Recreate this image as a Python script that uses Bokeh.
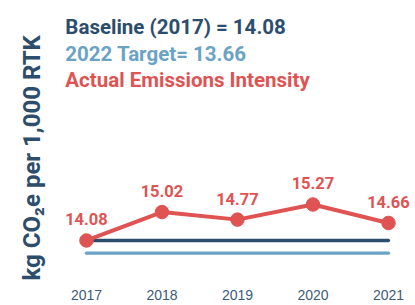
from bokeh.plotting import figure
from bokeh.models import ColumnDataSource, LabelSet, Label, Range1d, FixedTicker, Title
from bokeh.core.properties import value
from bokeh.embed import file_html
from bokeh.resources import INLINE

years = [2017, 2018, 2019, 2020, 2021]
actual = [14.08, 15.02, 14.77, 15.27, 14.66]
labels = ["14.08", "15.02", "14.77", "15.27", "14.66"]
baseline = 14.08
target = 13.66

NAVY = "#2c4d6b"
LIGHT = "#6aa3c3"
RED = "#e05353"
FONT = "Roboto"

YTOP = 22.014
p = figure(width=415, height=305, output_backend="svg", toolbar_location=None,
           x_range=Range1d(2016.656, 2021.358), y_range=Range1d(13.154, YTOP),
           min_border_left=60, min_border_right=0, min_border_top=0, min_border_bottom=37)
p.outline_line_color = None
p.background_fill_color = "white"
p.border_fill_color = "white"
p.xgrid.grid_line_color = None
p.ygrid.grid_line_color = None
p.yaxis.visible = False
p.xaxis.ticker = FixedTicker(ticks=years)
p.xaxis.axis_line_color = None
p.xaxis.major_tick_line_color = None
p.xaxis.minor_tick_line_color = None
p.xaxis.major_label_text_font = "Liberation Sans"
p.xaxis.major_label_text_font_size = "14px"
p.xaxis.major_label_text_color = "#3d5a77"
p.xaxis.major_label_standoff = 15

# reference lines
p.line([years[0], years[-1]], [target, target], line_color=LIGHT, line_width=3.3, line_cap="round")
p.line([years[0], years[-1]], [baseline, baseline], line_color=NAVY, line_width=3.3, line_cap="round")

src = ColumnDataSource(dict(x=years, y=actual, t=labels))
p.line("x", "y", source=src, line_color=RED, line_width=4)
p.scatter("x", "y", source=src, size=13.5, fill_color=RED, line_color=RED)
p.add_layout(LabelSet(x="x", y="y", text="t", source=src, y_offset=15,
                      text_align="center", text_baseline="alphabetic",
                      text_font=value(FONT), text_font_style="bold", text_font_size="16.5px",
                      text_color=RED))

titles = [("Baseline (2017) = 14.08", NAVY, 27),
          ("2022 Target= 13.66", LIGHT, 54),
          ("Actual Emissions Intensity", RED, 80)]
for txt, col, ypix in titles:
    p.add_layout(Label(x=2016.72, y=YTOP - ypix / 30.25, text=txt,
                       text_color=col, text_font=FONT, text_font_style="bold",
                       text_font_size="20.5px", text_baseline="alphabetic"))

p.add_layout(Title(text="kg CO\u2082e per 1,000 RTK", align="left", offset=-12,
                   vertical_align="top",
                   text_color=NAVY, text_font=FONT, text_font_style="bold",
                   text_font_size="24px", standoff=26), "left")

open("out.html", "w").write(file_html(p, INLINE))
